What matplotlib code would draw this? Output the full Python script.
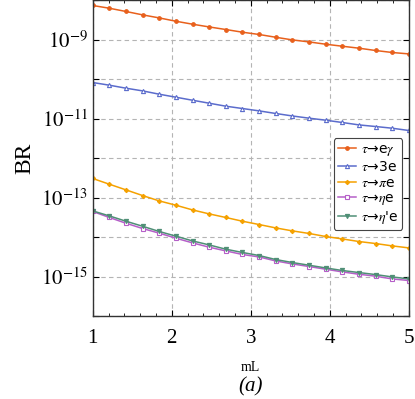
import matplotlib
matplotlib.use("Agg")
import matplotlib.pyplot as plt
from matplotlib.ticker import LogLocator, FuncFormatter, MultipleLocator, NullLocator
import numpy as np

# ── data ──────────────────────────────────────────────────────
mL = np.linspace(1, 5, 20)

br_egamma = [7.26e-9, 6.19e-9, 5.12e-9, 4.20e-9, 3.52e-9, 2.90e-9, 2.44e-9, 2.08e-9,
             1.79e-9, 1.53e-9, 1.34e-9, 1.14e-9, 9.77e-10, 8.69e-10, 7.60e-10,
             6.76e-10, 6.03e-10, 5.27e-10, 4.69e-10, 4.32e-10]
br_3e = [8.15e-11, 6.97e-11, 5.85e-11, 5.00e-11, 4.12e-11, 3.46e-11, 2.90e-11, 2.44e-11,
         2.05e-11, 1.79e-11, 1.56e-11, 1.34e-11, 1.16e-11, 1.02e-11, 9.06e-12,
         7.93e-12, 6.89e-12, 6.27e-12, 5.68e-12, 4.97e-12]
br_pie = [3.03e-13, 2.17e-13, 1.56e-13, 1.12e-13, 8.20e-14, 6.38e-14, 4.85e-14, 3.85e-14,
          3.12e-14, 2.51e-14, 2.07e-14, 1.70e-14, 1.43e-14, 1.23e-14, 1.03e-14,
          8.95e-15, 7.69e-15, 6.84e-15, 5.96e-15, 5.30e-15]
br_etae = [4.43e-14, 3.12e-14, 2.23e-14, 1.64e-14, 1.25e-14, 9.33e-15, 7.10e-15, 5.52e-15,
           4.45e-15, 3.61e-15, 3.13e-15, 2.48e-15, 2.08e-15, 1.79e-15, 1.53e-15,
           1.31e-15, 1.14e-15, 1.02e-15, 8.69e-16, 7.92e-16]
br_etape = [4.58e-14, 3.42e-14, 2.51e-14, 1.87e-14, 1.38e-14, 1.05e-14, 7.96e-15, 6.31e-15,
            4.91e-15, 4.06e-15, 3.40e-15, 2.69e-15, 2.26e-15, 1.93e-15, 1.65e-15,
            1.42e-15, 1.26e-15, 1.12e-15, 9.77e-16, 8.69e-16]

labels = [r"$\tau$→e$\gamma$", r"$\tau$→3e", r"$\tau$→$\pi$e",
          r"$\tau$→$\eta$e", r"$\tau$→$\eta$'e"]
series = [br_egamma, br_3e, br_pie, br_etae, br_etape]

plt.rcParams["font.family"] = ["Liberation Serif", "DejaVu Serif"]
plt.rcParams["mathtext.fontset"] = "stix"

fig = plt.figure(figsize=(4.15, 3.99), dpi=100)
ax = fig.add_axes([0.2234, 0.208, 0.7616, 0.792])

# ── curves ────────────────────────────────────────────────────
styles = [
    dict(color="#e8601c", marker="o", ms=2.6, mfc="#e8601c"),
    dict(color="#5b6ccc", marker="^", ms=3.0, mfc="white"),
    dict(color="#f5a100", marker="D", ms=2.2, mfc="#f5a100"),
    dict(color="#b55fc8", marker="s", ms=2.6, mfc="white"),
    dict(color="#4f8f76", marker="v", ms=3.0, mfc="#4f8f76"),
]
for y, lab, st in zip(series, labels, styles):
    ax.plot(mL, y, lw=1.1, mew=0.8, label=lab, **st)

ax.set_yscale("log")
ax.set_xlim(1, 5)
ax.set_ylim(1e-16, 1e-8)

# ── ticks / grid ──────────────────────────────────────────────
ax.xaxis.set_major_locator(MultipleLocator(1))
ax.xaxis.set_minor_locator(MultipleLocator(0.2))
ax.yaxis.set_major_locator(LogLocator(base=10, numticks=20))
ax.yaxis.set_minor_locator(NullLocator())

def fmt(v, pos):
    e = int(round(np.log10(v)))
    return rf"$10^{{{e}}}$" if e % 2 else ""

ax.yaxis.set_major_formatter(FuncFormatter(fmt))
ax.tick_params(which="both", direction="in", top=True, right=True, labelsize=15)
ax.tick_params(axis="x", pad=9)
ax.tick_params(which="major", length=4, width=0.8)
ax.tick_params(which="minor", length=2.5, width=0.6)
ax.grid(True, which="major", ls=(0, (4, 3)), color="#b4b4b4", lw=0.8)
for s in ax.spines.values():
    s.set_linewidth(1.0)
    s.set_color("#333333")

ax.set_ylabel("BR", fontsize=17, labelpad=4)
ax.set_xlabel("mL", fontsize=10, labelpad=10)
fig.text(0.604, 0.02, "(a)", fontsize=15, style="italic", ha="center")

leg = ax.legend(loc="lower right", bbox_to_anchor=(0.98, 0.272),
                prop={"family": "DejaVu Sans", "size": 10},
                handlelength=1.3, handletextpad=0.35, borderpad=0.3,
                labelspacing=0.12, borderaxespad=0, fancybox=True,
                framealpha=1, edgecolor="#444444")
leg.get_frame().set_linewidth(0.8)

fig.savefig("out.png", dpi=100)
